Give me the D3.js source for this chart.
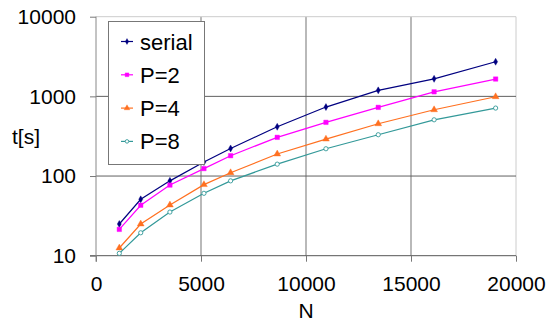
<!DOCTYPE html>
<html>
<head>
<meta charset="utf-8">
<script src="https://cdn.jsdelivr.net/npm/d3@7"></script>
<style>
  body { margin: 0; background: #fff; }
  svg { display: block; font-family: "Liberation Sans", Arial, sans-serif; }
</style>
</head>
<body>
<svg width="551" height="326"></svg>
<script>

var sizes = [1110, 2130, 3520, 5140, 6410, 8630, 10950, 13440, 16100, 19030];
var serial = [25, 51, 87, 150, 222, 415, 734, 1190, 1660, 2720];
var p2 = [21.4, 43, 77, 124, 180, 306, 472, 728, 1140, 1650];
var p4 = [12.5, 25, 43.3, 78, 110, 189, 291, 453, 679, 990];
var p8 = [10.7, 19.4, 35.3, 60.7, 87, 141, 220, 330, 508, 713];
var seriesNames = ['serial', 'P=2', 'P=4', 'P=8'];
var xTicks = [0, 5000, 10000, 15000, 20000];
var yTicks = [10, 100, 1000, 10000];

var colors = ['#000080', '#ff00ff', '#ff7020', '#339999'];
var allSeries = [serial, p2, p4, p8];

var svg = d3.select('svg');

var plotLeft = 96, plotRight = 516, plotTop = 16.7, plotBottom = 255.7;

var x = d3.scaleLinear().domain([0, 20000]).range([plotLeft, plotRight]);
var y = d3.scaleLog().domain([10, 10000]).range([plotBottom, plotTop]);

// grid
svg.append('g')
    .selectAll('line')
    .data(xTicks.slice(1))
    .join('line')
    .attr('x1', d => x(d)).attr('x2', d => x(d))
    .attr('y1', plotTop).attr('y2', plotBottom)
    .attr('stroke', d => d == 20000 ? '#cccccc' : '#a8a8a8')
    .attr('stroke-width', d => d == 20000 ? 1 : 1.6);

svg.append('g')
    .selectAll('line')
    .data(yTicks.slice(1))
    .join('line')
    .attr('x1', plotLeft).attr('x2', plotRight)
    .attr('y1', d => y(d)).attr('y2', d => y(d))
    .attr('stroke', d => d == 10000 ? '#cccccc' : '#606060')
    .attr('stroke-width', 1);

// axes
var xAxis = d3.axisBottom(x).tickValues(xTicks).tickSize(6).tickPadding(14).tickFormat(d3.format('d'));
var gx = svg.append('g').attr('transform', 'translate(0,' + plotBottom + ')').call(xAxis);
gx.select('.domain').attr('stroke', '#555').attr('d', 'M' + (plotLeft - 6) + ',0H' + plotRight);
gx.selectAll('.tick line').attr('stroke', '#777');
gx.selectAll('text').attr('font-size', 21).attr('fill', '#000').attr('font-family', '"Liberation Sans", Arial, sans-serif');

var yAxis = d3.axisLeft(y).tickValues(yTicks).tickSize(6).tickPadding(14).tickFormat(d3.format('d'));
var gy = svg.append('g').attr('transform', 'translate(' + plotLeft + ',0)').call(yAxis);
gy.select('.domain').attr('stroke', '#888').attr('d', 'M0,' + plotTop + 'V' + (plotBottom + 6));
gy.selectAll('.tick line').attr('stroke', '#777');
gy.selectAll('text').attr('font-size', 21).attr('fill', '#000').attr('font-family', '"Liberation Sans", Arial, sans-serif');

// axis titles
svg.append('text').attr('x', 26).attr('y', 144).attr('text-anchor', 'middle')
    .attr('font-size', 21).text('t[s]');
svg.append('text').attr('x', x(10000)).attr('y', 318).attr('text-anchor', 'middle')
    .attr('font-size', 21).text('N');

var symbols = [d3.symbolDiamond, d3.symbolSquare, d3.symbolTriangle, d3.symbolCircle];
var symSizes = [14, 20, 20, 14];

function drawMarker(g, i, px, py, k) {
    g.append('path')
        .attr('transform', 'translate(' + px + ',' + py + ')')
        .attr('d', d3.symbol().type(symbols[i]).size(symSizes[i] * k)())
        .attr('fill', i == 3 ? '#ffffff' : colors[i])
        .attr('stroke', colors[i])
        .attr('stroke-width', i == 3 ? 0.9 : 0.4);
}

var line = d3.line().x(d => x(d[0])).y(d => y(d[1]));

allSeries.forEach(function (vals, i) {
    var pts = sizes.map((n, j) => [n, vals[j]]);
    var g = svg.append('g');
    g.append('path').attr('d', line(pts)).attr('fill', 'none')
        .attr('stroke', colors[i]).attr('stroke-width', 1.2);
    pts.forEach(p => drawMarker(g, i, x(p[0]), y(p[1]), 1));
});

// legend
var lg = svg.append('g');
lg.append('rect').attr('x', 108.5).attr('y', 21.5).attr('width', 96).attr('height', 143)
    .attr('fill', '#fff').attr('stroke', '#777').attr('stroke-width', 1);
seriesNames.forEach(function (name, i) {
    var cy = 41.5 + i * 33.3;
    lg.append('line').attr('x1', 121).attr('x2', 133).attr('y1', cy).attr('y2', cy)
        .attr('stroke', colors[i]).attr('stroke-width', 1.2);
    drawMarker(lg, i, 127, cy, 0.7);
    lg.append('text').attr('x', 140).attr('y', cy + 8).attr('font-size', 22).text(name);
});

</script>
</body>
</html>
